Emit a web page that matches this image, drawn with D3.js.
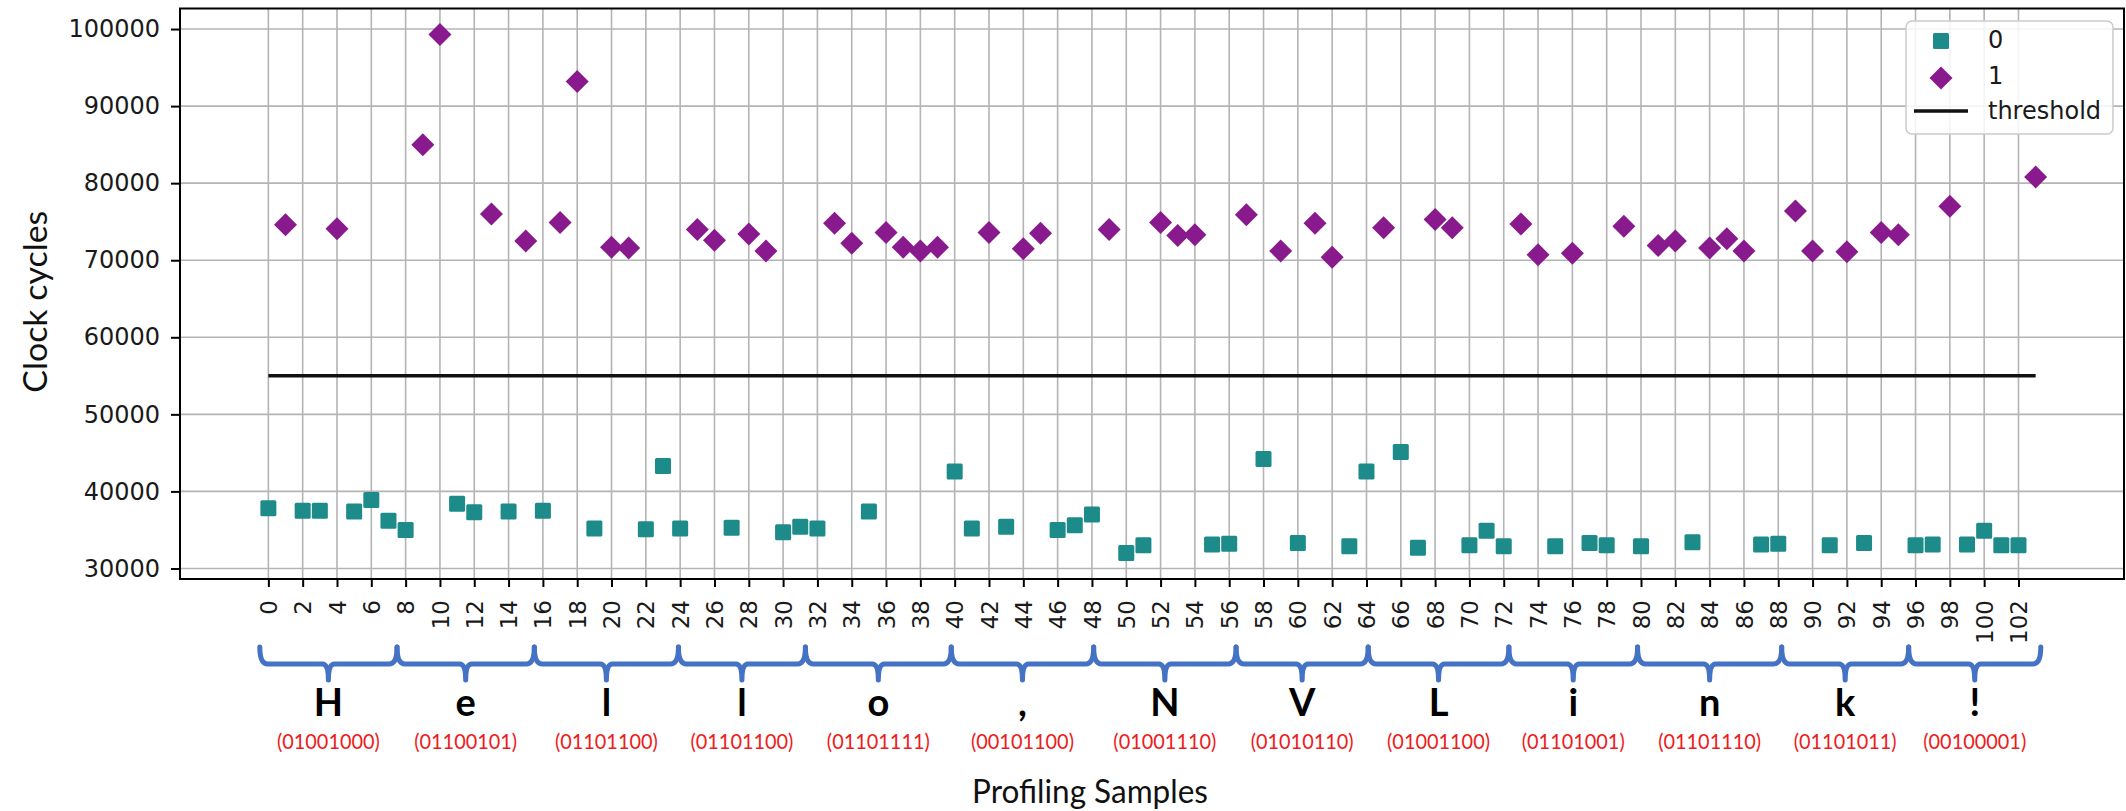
<!DOCTYPE html>
<html>
<head>
<meta charset="utf-8">
<script src="https://cdn.jsdelivr.net/npm/d3@7"></script>
<style>
  body { margin: 0; background: #ffffff; }
  svg { display: block; }
</style>
</head>
<body>
<svg id="chart" width="2126" height="811"></svg>
<script>
// Transmitted message: one character per 8 profiling samples
const chars = ["H", "e", "l", "l", "o", ",", "N", "V", "L", "i", "n", "k", "!"];
const codes = ["01001000", "01100101", "01101100", "01101100", "01101111", "00101100",
               "01001110", "01010110", "01001100", "01101001", "01101110", "01101011", "00100001"];

// Measured clock cycles for samples 0..103
const cycles = [
  37800, 74600, 37500, 37500, 74100, 37400, 38900, 36200,
  35000, 85000, 99300, 38400, 37300, 76000, 37400, 72500,
  37500, 74900, 93200, 35200, 71700, 71600, 35100, 43300,
  35200, 74000, 72600, 35300, 73400, 71200, 34700, 35400,
  35200, 74800, 72200, 37400, 73600, 71700, 71200, 71700,
  42600, 35200, 73600, 35400, 71500, 73500, 35000, 35600,
  37000, 74000, 32000, 33000, 74900, 73200, 73300, 33100,
  33200, 75900, 44200, 71200, 33300, 74800, 70400, 32900,
  42600, 74200, 45100, 32700, 75300, 74200, 33000, 34900,
  32900, 74700, 70700, 32900, 70900, 33300, 33000, 74400,
  32900, 71900, 72500, 33400, 71600, 72800, 71200, 33100,
  33200, 76400, 71200, 33000, 71100, 33300, 73600, 73300,
  33000, 33100, 77000, 33100, 34900, 33000, 33000, 80800
];

const threshold = 55000;
const yTicks = [30000, 40000, 50000, 60000, 70000, 80000, 90000, 100000];
const xTicks = d3.range(0, 104, 2);
// Brace edges (in sample units) grouping each character's 8 bits
const braceEdges = [-0.5, 7.5, 15.5, 23.9, 31.3, 39.8, 48.1, 56.4, 64.1, 72.3, 79.8, 88.2, 95.6, 103.3];

const bits = codes.join("").split("").map(Number);
const samples = cycles.map((v, i) => ({ i, v, bit: bits[i] }));
const zeros = samples.filter(d => d.bit === 0);
const ones = samples.filter(d => d.bit === 1);

const COLOR0 = "#1c8b8a";
const COLOR1 = "#891a8d";
const GRID = "#b4b4b4";
const TICK_FONT = "'DejaVu Sans', sans-serif";
const NOTE_FONT = "Lato, 'Open Sans', sans-serif";

const svg = d3.select("#chart");
const plot = { left: 180, right: 2124, top: 8.5, bottom: 579 };

// Axis limits with 5% padding around the data
const xExt = [0, cycles.length - 1];
const xPad = 0.05 * (xExt[1] - xExt[0]);
const yExt = d3.extent(cycles);
const yPad = 0.05 * (yExt[1] - yExt[0]);

const x = d3.scaleLinear().domain([xExt[0] - xPad, xExt[1] + xPad]).range([plot.left, plot.right]);
const y = d3.scaleLinear().domain([yExt[0] - yPad, yExt[1] + yPad]).range([plot.bottom, plot.top]);

// Grid
const grid = svg.append("g").attr("class", "grid");
grid.selectAll("line.gx").data(xTicks).join("line")
  .attr("class", "gx")
  .attr("x1", d => x(d)).attr("x2", d => x(d))
  .attr("y1", plot.top).attr("y2", plot.bottom)
  .attr("stroke", GRID).attr("stroke-width", 1.6);
grid.selectAll("line.gy").data(yTicks).join("line")
  .attr("class", "gy")
  .attr("x1", plot.left).attr("x2", plot.right)
  .attr("y1", d => y(d)).attr("y2", d => y(d))
  .attr("stroke", GRID).attr("stroke-width", 1.6);

// Threshold line
svg.append("line")
  .attr("x1", x(xExt[0])).attr("x2", x(xExt[1]))
  .attr("y1", y(threshold)).attr("y2", y(threshold))
  .attr("stroke", "#111").attr("stroke-width", 3.6);

// Bit 0 samples: squares
const sq = 16;
svg.append("g").selectAll("rect").data(zeros).join("rect")
  .attr("x", d => x(d.i) - sq / 2).attr("y", d => y(d.v) - sq / 2)
  .attr("width", sq).attr("height", sq).attr("rx", 1.5)
  .attr("fill", COLOR0);

// Bit 1 samples: diamonds
const dr = 11.5;
const diamond = (cx, cy, r) => `M${cx},${cy - r}L${cx + r},${cy}L${cx},${cy + r}L${cx - r},${cy}Z`;
svg.append("g").selectAll("path").data(ones).join("path")
  .attr("d", d => diamond(x(d.i), y(d.v), dr))
  .attr("fill", COLOR1);

// Frame
svg.append("rect")
  .attr("x", plot.left).attr("y", plot.top)
  .attr("width", plot.right - plot.left).attr("height", plot.bottom - plot.top)
  .attr("fill", "none").attr("stroke", "#000").attr("stroke-width", 2);

// Axes
const xAxis = svg.append("g")
  .attr("transform", `translate(0,${plot.bottom})`)
  .call(d3.axisBottom(x).tickValues(xTicks).tickSize(8).tickSizeOuter(0).tickFormat(d3.format("d")));
xAxis.select(".domain").remove();
xAxis.selectAll(".tick line").attr("stroke", "#000").attr("stroke-width", 2);
xAxis.selectAll(".tick text")
  .attr("transform", "rotate(-90)")
  .attr("text-anchor", "end")
  .attr("x", -21).attr("y", 0).attr("dy", "0.35em")
  .attr("font-family", TICK_FONT).attr("font-size", 23).attr("fill", "#1a1a1a");

const yAxis = svg.append("g")
  .attr("transform", `translate(${plot.left},0)`)
  .call(d3.axisLeft(y).tickValues(yTicks).tickSize(9).tickSizeOuter(0).tickPadding(11).tickFormat(d3.format("d")));
yAxis.select(".domain").remove();
yAxis.selectAll(".tick line").attr("stroke", "#000").attr("stroke-width", 2);
yAxis.selectAll(".tick text")
  .attr("font-family", TICK_FONT).attr("font-size", 24).attr("fill", "#1a1a1a");

// Y axis title
svg.append("text")
  .attr("transform", `translate(34,${(plot.top + plot.bottom) / 2 + 8}) rotate(-90)`)
  .attr("text-anchor", "middle").attr("dominant-baseline", "central")
  .attr("font-family", NOTE_FONT).attr("font-size", 33).attr("fill", "#111")
  .attr("textLength", 182).attr("lengthAdjust", "spacingAndGlyphs")
  .text("Clock cycles");

// Legend
const lg = svg.append("g").attr("transform", "translate(1906,21)");
lg.append("rect").attr("width", 207).attr("height", 113).attr("rx", 6)
  .attr("fill", "#fff").attr("fill-opacity", 0.85)
  .attr("stroke", "#cccccc").attr("stroke-width", 1.5);
lg.append("rect").attr("x", 35 - sq / 2).attr("y", 20 - sq / 2).attr("width", sq).attr("height", sq)
  .attr("rx", 1.5).attr("fill", COLOR0);
lg.append("path").attr("d", diamond(35, 57, dr)).attr("fill", COLOR1);
lg.append("line").attr("x1", 8).attr("x2", 62).attr("y1", 90).attr("y2", 90)
  .attr("stroke", "#111").attr("stroke-width", 3.6);
const legendLabels = ["0", "1", "threshold"];
lg.selectAll("text.lbl").data(legendLabels).join("text")
  .attr("class", "lbl")
  .attr("x", 82).attr("y", (d, i) => [19, 55, 90][i]).attr("dy", "0.35em")
  .attr("font-family", TICK_FONT).attr("font-size", 24).attr("fill", "#1a1a1a")
  .text(d => d);

// Character braces
const braceTop = 647, braceMid = 664, braceTip = 680;
const notes = svg.append("g");
chars.forEach((c, k) => {
  const xl = x(braceEdges[k]), xr = x(braceEdges[k + 1]);
  const xc = (xl + xr) / 2;
  const path = `M${xl},${braceTop} Q${xl},${braceMid} ${xl + 8},${braceMid} L${xc - 6},${braceMid}`
    + ` Q${xc},${braceMid} ${xc},${braceTip} Q${xc},${braceMid} ${xc + 6},${braceMid}`
    + ` L${xr - 8},${braceMid} Q${xr},${braceMid} ${xr},${braceTop}`;
  notes.append("path").attr("d", path)
    .attr("fill", "none").attr("stroke", "#4472c4").attr("stroke-width", 5)
    .attr("stroke-linejoin", "round").attr("stroke-linecap", "round");
  notes.append("text")
    .attr("x", xc).attr("y", 716)
    .attr("text-anchor", "middle")
    .attr("font-family", NOTE_FONT).attr("font-weight", 700).attr("font-size", 38).attr("fill", "#000")
    .text(c);
  notes.append("text")
    .attr("x", xc).attr("y", 749)
    .attr("text-anchor", "middle")
    .attr("font-family", NOTE_FONT).attr("font-size", 22).attr("fill", "#ee1c1c")
    .attr("textLength", 103).attr("lengthAdjust", "spacingAndGlyphs")
    .text(`(${codes[k]})`);
});

// X axis title
svg.append("text")
  .attr("x", 1090).attr("y", 803)
  .attr("text-anchor", "middle")
  .attr("font-family", NOTE_FONT).attr("font-size", 33).attr("fill", "#111")
  .attr("textLength", 236).attr("lengthAdjust", "spacingAndGlyphs")
  .text("Profiling Samples");
</script>
</body>
</html>
